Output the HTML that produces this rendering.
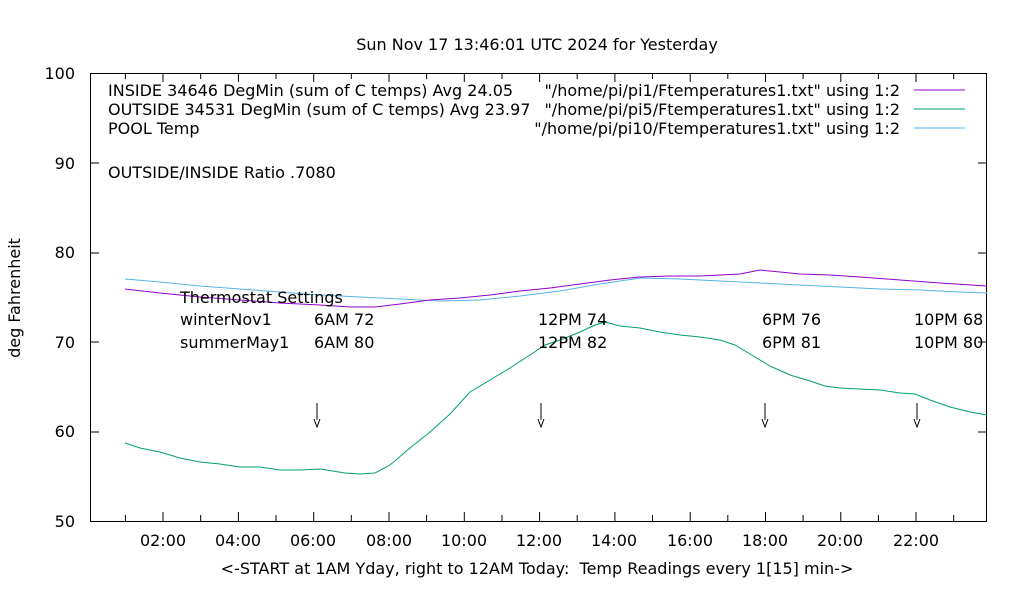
<!DOCTYPE html><html><head><style>body{margin:0;background:#fff}svg text{font-family:"DejaVu Sans","Liberation Sans",sans-serif;font-size:16px;fill:#000}</style></head><body>
<svg width="1020" height="600" xmlns="http://www.w3.org/2000/svg">
<rect x="90.5" y="73.5" width="896" height="448" fill="none" stroke="#000"/>
<g stroke="#000">
<line x1="90" y1="163" x2="99" y2="163"/><line x1="978" y1="163" x2="987" y2="163"/>
<line x1="90" y1="253" x2="99" y2="253"/><line x1="978" y1="253" x2="987" y2="253"/>
<line x1="90" y1="342" x2="99" y2="342"/><line x1="978" y1="342" x2="987" y2="342"/>
<line x1="90" y1="432" x2="99" y2="432"/><line x1="978" y1="432" x2="987" y2="432"/>
</g>
<text x="75" y="79" text-anchor="end">100</text>
<text x="75" y="169" text-anchor="end">90</text>
<text x="75" y="258" text-anchor="end">80</text>
<text x="75" y="348" text-anchor="end">70</text>
<text x="75" y="437" text-anchor="end">60</text>
<text x="75" y="527" text-anchor="end">50</text>
<g text-anchor="middle">
<text x="163" y="546">02:00</text><text x="238" y="546">04:00</text><text x="313" y="546">06:00</text><text x="389" y="546">08:00</text><text x="464" y="546">10:00</text><text x="539" y="546">12:00</text><text x="614" y="546">14:00</text><text x="690" y="546">16:00</text><text x="765" y="546">18:00</text><text x="840" y="546">20:00</text><text x="916" y="546">22:00</text>
<text x="537" y="50">Sun Nov 17 13:46:01 UTC 2024 for Yesterday</text>
<text x="537" y="574" xml:space="preserve">&lt;-START at 1AM Yday, right to 12AM Today:  Temp Readings every 1[15] min-&gt;</text>
</g>
<text transform="translate(20,298) rotate(-90)" text-anchor="middle">deg Fahrenheit</text>
<text x="108" y="96">INSIDE 34646 DegMin (sum of C temps) Avg 24.05</text>
<text x="108" y="115">OUTSIDE 34531 DegMin (sum of C temps) Avg 23.97</text>
<text x="108" y="134">POOL Temp</text>
<text x="900" y="96" text-anchor="end">"/home/pi/pi1/Ftemperatures1.txt" using 1:2</text>
<text x="900" y="115" text-anchor="end">"/home/pi/pi5/Ftemperatures1.txt" using 1:2</text>
<text x="900" y="134" text-anchor="end">"/home/pi/pi10/Ftemperatures1.txt" using 1:2</text>
<line x1="914" y1="90" x2="965" y2="90" stroke="#9400d3"/>
<line x1="914" y1="109" x2="965" y2="109" stroke="#009e73"/>
<line x1="914" y1="128" x2="965" y2="128" stroke="#56b4e9"/>
<text x="108" y="178">OUTSIDE/INSIDE Ratio .7080</text>
<polyline fill="none" stroke="#56b4e9" points="125,279 160,282 200,286 240,289 280,292 320,295 360,297 400,299 440,301 480,300 520,296 560,291 600,284 640,278 680,279 720,281 760,283 800,285 840,287 880,289 920,290 960,292 987,293"/>
<polyline fill="none" stroke="#9400d3" points="125,289 160,293 200,297 240,300 280,303 320,305 350,307 375,307 400,304 430,300 460,298 490,295 520,291 550,288 580,284 610,280 640,277 670,276 700,276 740,274 760,270 780,272 800,274 830,275 860,277 900,280 940,283 987,286"/>
<polyline fill="none" stroke="#009e73" points="125,443 140,448 160,452 180,458 200,462 220,464 240,467 260,467 280,470 300,470 320,469 345,473 360,474 375,473 390,465 410,448 430,432 450,414 470,392 490,380 510,368 530,355 545,345 560,340 580,332 595,325 605,322 620,326 640,328 660,332 680,335 700,337 720,340 735,345 750,354 770,366 790,375 810,381 825,386 840,388 860,389 880,390 900,393 915,394 930,400 950,407 970,412 987,415"/>
<text x="180" y="303">Thermostat Settings</text>
<text x="180" y="325">winterNov1</text><text x="180" y="348">summerMay1</text>
<text x="314" y="325">6AM 72</text><text x="314" y="348">6AM 80</text>
<text x="538" y="325">12PM 74</text><text x="538" y="348">12PM 82</text>
<text x="762" y="325">6PM 76</text><text x="762" y="348">6PM 81</text>
<text x="914" y="325">10PM 68</text><text x="914" y="348">10PM 80</text>
<g stroke="#000" fill="none">
<path d="M317 403V420M541 403V420M765 403V420M917 403V420"/>
<path d="M314 419l3 8 3-8M538 419l3 8 3-8M762 419l3 8 3-8M914 419l3 8 3-8"/>
</g>
<g stroke="#000">
<path d="M125.4 521v-6M163 521v-9M200.7 521v-6M238.4 521v-9M276 521v-6M313.7 521v-9M351.3 521v-6M389 521v-9M426.6 521v-6M464.3 521v-9M502 521v-6M539.6 521v-9M577.2 521v-6M614.9 521v-9M652.5 521v-6M690.2 521v-9M727.8 521v-6M765.5 521v-9M803.1 521v-6M840.8 521v-9M878.4 521v-6M916 521v-9M953.7 521v-6
M125.4 73v6M163 73v9M200.7 73v6M238.4 73v9M276 73v6M313.7 73v9M351.3 73v6M389 73v9M426.6 73v6M464.3 73v9M502 73v6M539.6 73v9M577.2 73v6M614.9 73v9M652.5 73v6M690.2 73v9M727.8 73v6M765.5 73v9M803.1 73v6M840.8 73v9M878.4 73v6M916 73v9M953.7 73v6"/>
</g>
</svg></body></html>
